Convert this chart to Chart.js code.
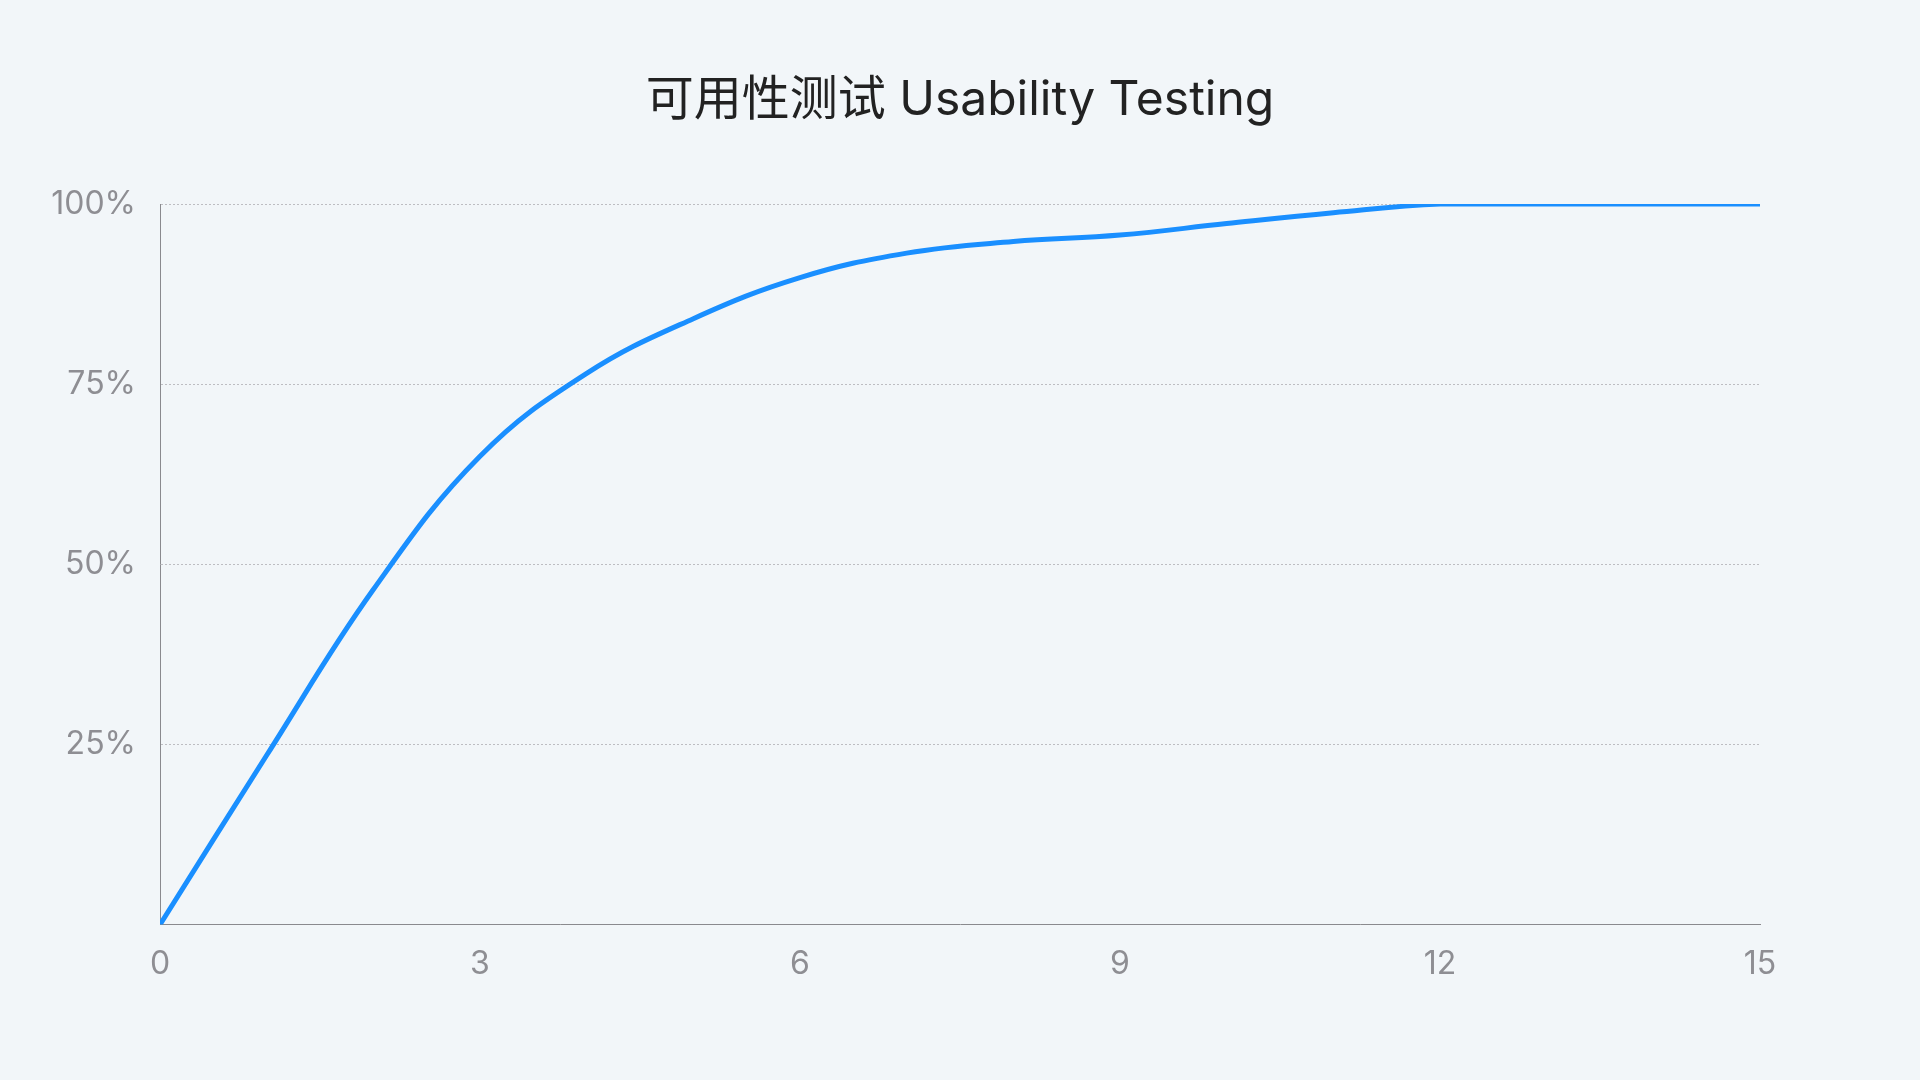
<!DOCTYPE html>
<html>
<head>
<meta charset="utf-8">
<script src="https://cdn.jsdelivr.net/npm/chart.js@4"></script>
<style>
  html, body { margin: 0; padding: 0; background: #f2f6f9; }
  #wrap { width: 1920px; height: 1080px; }
</style>
</head>
<body>
<div id="wrap"><canvas id="c" width="1920" height="1080"></canvas></div>
<script>
const title = '可用性测试 Usability Testing';
const xValues = [0, 1, 2, 3, 4, 5, 6, 7, 8, 9, 10, 11, 12, 13, 14, 15];
const yValues = [0, 23.5, 46.5, 65, 76.5, 84.1, 89.8, 93.2, 94.8, 95.7, 97.3, 98.8, 100, 100, 100, 100];
const xTicks = [0, 3, 6, 9, 12, 15];
const yTicks = [0, 25, 50, 75, 100];

const points = xValues.map((x, i) => ({ x: x, y: yValues[i] }));

const tickColor = '#8e8e93';
const fontFamily = 'Inter, "Noto Sans CJK SC", "Noto Sans", sans-serif';

new Chart(document.getElementById('c'), {
  type: 'line',
  data: {
    datasets: [{
      data: points,
      borderColor: '#1a8fff',
      borderWidth: 5,
      pointRadius: 0,
      tension: 0.4,
      fill: false
    }]
  },
  options: {
    responsive: false,
    animation: false,
    layout: { padding: { left: 0, right: 0, top: 0, bottom: 75 } },
    plugins: {
      legend: { display: false },
      tooltip: { enabled: false },
      title: {
        display: true,
        text: title,
        color: '#222222',
        font: { family: fontFamily, size: 48, weight: '400', lineHeight: 1.2 },
        padding: { top: 72, bottom: 74.5 }
      }
    },
    scales: {
      x: {
        type: 'linear',
        min: 0,
        max: 15,
        afterBuildTicks: (axis) => { axis.ticks = xTicks.map(v => ({ value: v })); },
        ticks: {
          color: tickColor,
          font: { family: fontFamily, size: 32 },
          padding: 21,
          maxRotation: 0
        },
        grid: { display: false, drawTicks: false },
        border: { display: true, color: '#8a8a8e', width: 1 }
      },
      y: {
        position: 'left',
        min: 0,
        max: 100,
        afterBuildTicks: (axis) => { axis.ticks = yTicks.map(v => ({ value: v })); },
        afterFit: (axis) => { axis.width = 160; },
        ticks: {
          color: tickColor,
          font: { family: fontFamily, size: 32 },
          padding: 24,
          callback: (v) => v === 0 ? '' : v + '%'
        },
        grid: {
          color: (ctx) => ctx.tick && ctx.tick.value === 0 ? 'rgba(0,0,0,0)' : '#bdbdc2',
          lineWidth: 1,
          drawTicks: false
        },
        border: { display: true, color: '#8a8a8e', width: 1, dash: [2, 2], dashOffset: 0 }
      },
      yRight: {
        position: 'right',
        display: true,
        min: 0,
        max: 1,
        afterFit: (axis) => { axis.width = 160; },
        ticks: { display: false },
        grid: { display: false, drawTicks: false },
        border: { display: false }
      }
    }
  }
});
</script>
</body>
</html>
